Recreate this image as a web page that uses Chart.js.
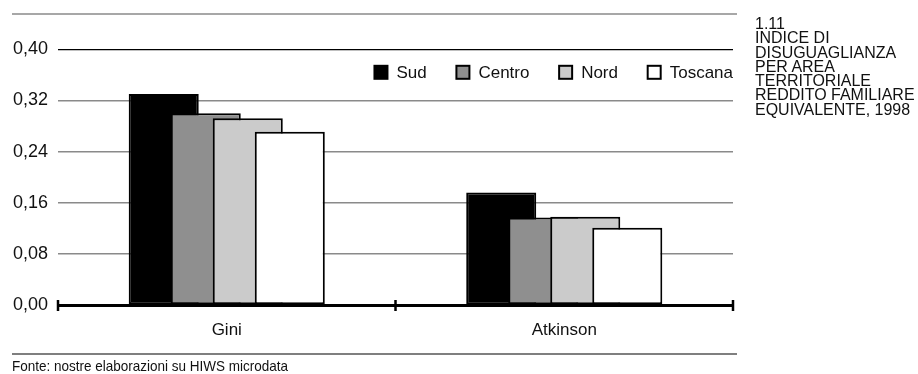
<!DOCTYPE html>
<html lang="it">
<head>
<meta charset="utf-8">
<title>Indice di disuguaglianza per area territoriale</title>
<script src="https://cdn.jsdelivr.net/npm/chart.js@4.4.1/dist/chart.umd.min.js"></script>
<style>
  html, body { margin: 0; padding: 0; background: #fff; }
  #wrap { position: relative; width: 918px; height: 374px; overflow: hidden; }
  #chart { position: absolute; left: 0; top: 0; }
  .caption {
    position: absolute; left: 755px; top: 17px;
    font-family: "Liberation Sans", Arial, sans-serif;
    font-size: 17px; line-height: 14.3px; color: #111; white-space: nowrap;
    transform: scaleX(0.94); transform-origin: 0 0;
  }
  .source {
    position: absolute; left: 12px; top: 357px;
    font-family: "Liberation Sans", Arial, sans-serif;
    font-size: 15px; line-height: 17px; color: #111; white-space: nowrap;
    transform: scaleX(0.9); transform-origin: 0 0;
  }
</style>
</head>
<body>
<div id="wrap">
  <canvas id="chart" width="918" height="374"></canvas>
  <div class="caption">1.11<br>INDICE DI<br>DISUGUAGLIANZA<br>PER AREA<br>TERRITORIALE<br>REDDITO FAMILIARE<br>EQUIVALENTE, 1998</div>
  <div class="source">Fonte: nostre elaborazioni su HIWS microdata</div>
</div>
<script>
// Inequality indices by territorial area
const categories = ['Gini', 'Atkinson'];
const areas = ['Sud', 'Centro', 'Nord', 'Toscana'];
const sud = [0.330, 0.176];
const centro = [0.300, 0.137];
const nord = [0.292, 0.138];
const toscana = [0.271, 0.121];
const yTickValues = [0, 0.08, 0.16, 0.24, 0.32, 0.40];

const fills = ['#000000', '#8f8f8f', '#cbcbcb', '#ffffff'];
const seriesValues = [sud, centro, nord, toscana];
const FONT = '"Liberation Sans", Arial, sans-serif';

const fmt = v => v.toFixed(2).replace('.', ',');

// Later areas sit in front of earlier ones: draw bars in dataset order
const frontToBack = {
  id: 'frontToBack',
  beforeDatasetsDraw(chart) {
    const metas = chart.getSortedVisibleDatasetMetas().slice().sort((a, b) => a.index - b.index);
    metas.forEach(m => m.controller.draw());
    return false;
  }
};

// Rules above and below the plot, boundary marks on the category axis, legend
const decorations = {
  id: 'decorations',
  afterDraw(chart) {
    const ctx = chart.ctx;
    const area = chart.chartArea;
    const x = chart.scales.x;
    const y = chart.scales.y;
    ctx.save();
    // top rule
    ctx.strokeStyle = '#8a8a8a';
    ctx.lineWidth = 1.5;
    ctx.beginPath(); ctx.moveTo(12, 14); ctx.lineTo(737, 14); ctx.stroke();
    // bottom rule
    ctx.strokeStyle = '#000';
    ctx.lineWidth = 1.2;
    ctx.beginPath(); ctx.moveTo(12, 354); ctx.lineTo(737, 354); ctx.stroke();

    // category boundary marks
    const base = y.getPixelForValue(0);
    const marks = [area.left];
    for (let i = 1; i < categories.length; i++) {
      marks.push((x.getPixelForValue(i - 1) + x.getPixelForValue(i)) / 2);
    }
    marks.push(area.right);
    ctx.strokeStyle = '#000';
    ctx.lineWidth = 2.5;
    marks.forEach(px => {
      ctx.beginPath(); ctx.moveTo(px, base - 5); ctx.lineTo(px, base + 6); ctx.stroke();
    });

    // legend, right-aligned inside the plot
    ctx.font = '17px ' + FONT;
    ctx.textBaseline = 'middle';
    ctx.textAlign = 'left';
    const box = 15, gapText = 8, gapItem = 28.7;
    const cy = area.top + 23;
    const widths = areas.map(a => box + gapText + ctx.measureText(a).width);
    const total = widths.reduce((s, w) => s + w, 0) + gapItem * (areas.length - 1);
    let cx = area.right - total;
    areas.forEach((a, i) => {
      ctx.fillStyle = '#000';
      ctx.fillRect(cx, cy - box / 2, box, box);
      ctx.fillStyle = fills[i];
      ctx.fillRect(cx + 2, cy - box / 2 + 2, box - 4, box - 4);
      ctx.fillStyle = '#111';
      ctx.fillText(a, cx + box + gapText, cy + 1);
      cx += widths[i] + gapItem;
    });
    ctx.restore();
  }
};

new Chart(document.getElementById('chart'), {
  type: 'bar',
  data: {
    labels: categories,
    datasets: areas.map((a, i) => ({
      label: a,
      data: seriesValues[i],
      backgroundColor: fills[i],
      borderColor: '#000',
      borderWidth: 2,
      borderSkipped: false,
      categoryPercentage: 0.498,
      barPercentage: 1.667
    }))
  },
  options: {
    responsive: false,
    devicePixelRatio: 1,
    animation: false,
    events: [],
    layout: { padding: { top: 49.3, right: 185, bottom: 29, left: 0 } },
    plugins: { legend: { display: false }, tooltip: { enabled: false } },
    scales: {
      x: {
        type: 'category',
        position: 'bottom',
        grid: { display: false, drawTicks: false },
        border: { display: true, color: '#000', width: 3 },
        ticks: { color: '#111', font: { family: FONT, size: 17 }, padding: 15 },
        afterFit(s) { s.height = 40; }
      },
      y: {
        min: 0,
        max: 0.4,
        position: 'left',
        border: { display: false },
        grid: {
          drawTicks: false,
          lineWidth: ctx => (ctx.tick && Math.abs(ctx.tick.value - 0.4) < 1e-9) ? 1.3 : 1.5,
          color: ctx => {
            if (!ctx.tick) return '#8a8a8a';
            if (Math.abs(ctx.tick.value) < 1e-9) return 'rgba(0,0,0,0)';
            if (Math.abs(ctx.tick.value - 0.4) < 1e-9) return '#000';
            return '#8a8a8a';
          }
        },
        afterBuildTicks(s) { s.ticks = yTickValues.map(v => ({ value: v })); },
        ticks: {
          color: '#111',
          font: { family: FONT, size: 18 },
          padding: 10,
          callback: v => fmt(v)
        },
        afterFit(s) { s.width = 58; }
      }
    }
  },
  plugins: [frontToBack, decorations]
});
</script>
</body>
</html>
